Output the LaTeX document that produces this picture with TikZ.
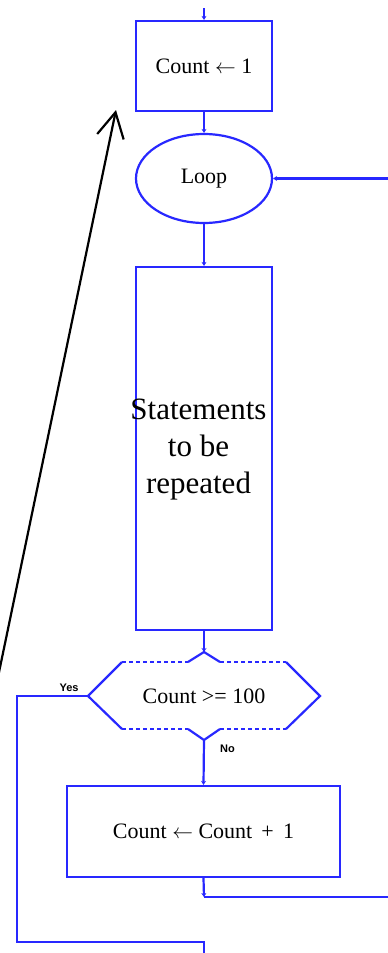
\documentclass[tikz,border=0pt]{standalone}
\usepackage{fontspec}
\setmainfont{Liberation Serif}
\newfontfamily\labelfont{Liberation Sans}
\usetikzlibrary{arrows.meta,shapes.geometric}
\definecolor{fcblue}{RGB}{40,40,255}
\begin{document}
\begin{tikzpicture}[x=1pt,y=-1pt,
  flow/.style={draw=fcblue,line width=2.2pt},
  box/.style={flow,rectangle,inner sep=0pt,font=\fontsize{22}{26}\selectfont},
  oval/.style={flow,ellipse,inner sep=0pt,font=\fontsize{22}{26}\selectfont},
  conn/.style={draw=fcblue,line width=2.2pt,-{Stealth[length=4pt,width=5pt]}},
  line/.style={draw=fcblue,line width=2.2pt},
  dashedge/.style={draw=fcblue,line width=1.6pt,dash pattern=on 4pt off 3pt},
  tag/.style={font=\labelfont\fontsize{11}{13}\selectfont\bfseries,inner sep=0pt},
  bigtext/.style={font=\fontsize{31}{37}\selectfont,align=center,inner sep=0pt}
]
\useasboundingbox (0,0) rectangle (388,953);
\fill[white] (0,0) rectangle (388,953);

% nodes
\node[box,minimum width=136pt,minimum height=90pt] (init) at (204,66) {Count $\leftarrow$ 1};
\node[oval,minimum width=136pt,minimum height=89pt] (loop) at (204,178.5) {Loop};
\node[box,minimum width=136pt,minimum height=363pt] (stmts) at (204,448.5) {};
\node[bigtext] (stmtstext) at (198.5,450) {Statements\\to be\\repeated};
\node[font=\fontsize{22}{26}\selectfont,inner sep=0pt] (dec) at (204,696) {Count >= 100};
\node[box,minimum width=273pt,minimum height=91pt] (inc) at (203.5,831.5) {Count $\leftarrow$ Count \,+\, 1};

% decision hexagon
\coordinate (dL) at (88,696);
\coordinate (dR) at (320,696);
\coordinate (dT) at (204,652);
\coordinate (dB) at (204,740);
\draw[line,line join=miter] (122,662) -- (dL) -- (122,729);
\draw[line,line join=miter] (286,662) -- (dR) -- (286,729);
\draw[line] (188,662) -- (dT) -- (220,662);
\draw[line] (188,729) -- (dB) -- (220,729);
\draw[dashedge] (122,662) -- (188,662);
\draw[dashedge] (220,662) -- (286,662);
\draw[dashedge] (122,729) -- (188,729);
\draw[dashedge] (220,729) -- (286,729);

% coordinates for free ends
\coordinate (topin) at (204,8);
\coordinate (loopin) at (390,178.5);
\coordinate (incout) at (204,897);
\coordinate (incend) at (390,897);
\coordinate (yesc1) at (17,696);
\coordinate (yesc2) at (17,942);
\coordinate (yesc3) at (204,942);
\coordinate (yesend) at (204,956);

% connectors
\draw[conn] (topin) -- (init.north);
\draw[conn] (init.south) -- (loop.north);
\draw[conn] (loopin) -- (loop.east);
\draw[conn] (loop.south) -- (stmts.north);
\draw[conn] (stmts.south) -- (dT);
\draw[conn] (dB) -- (inc.north);
\draw[conn] (inc.south) -- (incout);
\draw[line] (incout) -- (incend);
\draw[line] (dL) -- (yesc1) -- (yesc2) -- (yesc3) -- (yesend);

\node[tag,anchor=south] (yes) at (69,692) {Yes};
\node[tag,anchor=north west] (no) at (220,745) {No};

% black annotation arrow
\coordinate (blkstart) at (-2,677);
\coordinate (blktip) at (116,110);
\draw[black,line width=2.2pt,-{Straight Barb[length=25pt,width=27pt]}] (blkstart) -- (blktip);
\end{tikzpicture}
\end{document}
